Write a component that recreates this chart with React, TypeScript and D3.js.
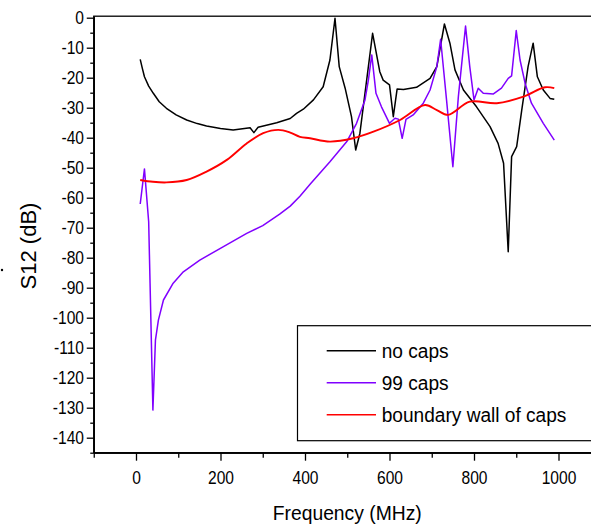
import React, { useEffect, useRef } from "react";
import * as d3 from "d3";

// S12 vs frequency
const noCapsFreq = [10, 15, 20, 30, 41, 55, 72, 95, 120, 145, 167, 200, 230, 270, 279, 289, 333, 365, 380, 396, 420, 443, 459, 471, 481, 495, 510, 520, 530, 560, 577, 585, 600, 609, 618, 633, 664, 696, 712, 730, 743, 755, 775, 806, 838, 857, 870, 881, 889, 901, 913, 928, 940, 950, 964, 980, 990];
const noCapsDb = [-13.9, -16.9, -19.7, -22.8, -25.2, -28, -30.2, -32.4, -34.1, -35.3, -36.1, -36.9, -37.4, -36.7, -38.3, -36.5, -35, -33.6, -31.9, -30.5, -27.4, -23, -14.1, -0.2, -16.3, -23.5, -33, -44.1, -38.5, -5.2, -18, -20.8, -22.4, -33, -23.8, -23.9, -23.2, -20.2, -16.3, -2.1, -8.5, -17.4, -24.1, -29.7, -36.3, -41.9, -48.5, -78, -46.3, -43, -30.8, -16.3, -8.5, -19.7, -24.1, -26.9, -27.2];

const capsFreq = [10, 20, 30, 40, 46, 53, 65, 88, 112, 151, 207, 262, 300, 340, 365, 388, 412, 459, 499, 522, 542, 550, 558, 568, 581, 600, 613, 621, 630, 639, 656, 680, 696, 712, 721, 735, 750, 763, 780, 790, 800, 810, 822, 846, 865, 881, 889, 900, 909, 921, 936, 964, 990];
const capsDb = [-62.1, -50.4, -68, -130.8, -107.5, -100.8, -94.1, -88.5, -84.7, -80.8, -76.3, -71.9, -69.3, -65.5, -62.8, -59.5, -55.5, -48, -41.3, -35.2, -27.4, -20.8, -12.4, -25.2, -29.7, -35.2, -33.5, -33.8, -40.2, -33.9, -32.4, -28.5, -24.1, -16.3, -7.2, -27.4, -49.7, -26.3, -2.8, -16.3, -27.4, -23.5, -25.2, -25.4, -23.5, -20.2, -19.4, -4.3, -14.1, -21.9, -28.5, -35.2, -40.8];

const wallFreq = [10, 40, 72, 120, 167, 215, 262, 301, 337, 365, 388, 412, 459, 514, 562, 625, 684, 712, 739, 790, 854, 917, 968, 990];
const wallDb = [-54.1, -54.7, -54.9, -54.1, -51.3, -47.4, -41.9, -38.5, -37.4, -38.3, -39.7, -40.2, -41.3, -40.2, -38, -34.1, -29.1, -30.8, -32.4, -28, -28.5, -26.3, -23.2, -23.5];

const seriesNames = ["no caps", "99 caps", "boundary wall of caps"];
const seriesColors = ["#000000", "#8000ff", "#ff0000"];

const xMajor = [0, 200, 400, 600, 800, 1000];
const xMinor = [-100, 100, 300, 500, 700, 900, 1100];
const yMajor = d3.range(-140, 1, 10);
const yMinor = d3.range(-145, 1, 5).filter((v) => v % 10 !== 0);

const font = "'Liberation Sans', Arial, sans-serif";

const App = () => {
  const svgRef = useRef<SVGSVGElement>(null);

  useEffect(() => {
    const svg = d3.select(svgRef.current);
    svg.selectAll("*").remove();

    const x = d3.scaleLinear().domain([-100, 1100]).range([93.75, 600.75]);
    const y = d3.scaleLinear().domain([-145, 0.5]).range([452.7, 16.2]);

    // frame
    svg.append("rect")
      .attr("x", x(-100)).attr("y", y(0.5))
      .attr("width", x(1100) - x(-100)).attr("height", y(-145) - y(0.5))
      .attr("fill", "none").attr("stroke", "#000").attr("stroke-width", 1.3);

    // minor + major ticks
    const gx = svg.append("g").attr("transform", `translate(0,${y(-145)})`);
    gx.call(d3.axisBottom(x).tickValues(xMinor).tickSize(5).tickSizeOuter(0).tickFormat(() => ""));
    gx.append("g").call(
      d3.axisBottom(x).tickValues(xMajor).tickSize(8).tickSizeOuter(0).tickPadding(11)
        .tickFormat((d) => String(d))
    );
    const gy = svg.append("g").attr("transform", `translate(${x(-100)},0)`);
    gy.call(d3.axisLeft(y).tickValues(yMinor).tickSize(3.5).tickSizeOuter(0).tickFormat(() => ""));
    gy.append("g").call(
      d3.axisLeft(y).tickValues(yMajor).tickSize(7).tickSizeOuter(0).tickPadding(4)
        .tickFormat((d) => String(d))
    );
    svg.selectAll(".domain").attr("stroke-width", 1.3);
    svg.selectAll(".tick line").attr("stroke-width", 1.3);
    svg.selectAll(".tick text")
      .attr("font-family", font)
      .attr("font-size", 17.5)
      .attr("fill", "#000")
      .attr("transform", "scale(0.89,1)");

    // titles
    svg.append("text")
      .attr("transform", `translate(${x(500)},520) scale(0.92,1)`)
      .attr("text-anchor", "middle")
      .attr("font-family", font).attr("font-size", 21)
      .text("Frequency (MHz)");
    svg.append("text")
      .attr("transform", "translate(35.5,246) rotate(-90)")
      .attr("text-anchor", "middle")
      .attr("font-family", font).attr("font-size", 22)
      .text("S12 (dB)");
    svg.append("circle").attr("cx", 2).attr("cy", 270).attr("r", 1.2).attr("fill", "#000");

    const line = d3.line<[number, number]>().x((d) => x(d[0])).y((d) => y(d[1]));
    const smooth = d3.line<[number, number]>().x((d) => x(d[0])).y((d) => y(d[1])).curve(d3.curveCatmullRom);

    const data: [number, number][][] = [
      noCapsFreq.map((f, i) => [f, noCapsDb[i]]),
      capsFreq.map((f, i) => [f, capsDb[i]]),
      wallFreq.map((f, i) => [f, wallDb[i]]),
    ];

    data.forEach((pts, i) => {
      svg.append("path")
        .attr("d", (i === 2 ? smooth : line)(pts))
        .attr("fill", "none")
        .attr("stroke", seriesColors[i])
        .attr("stroke-width", i === 2 ? 1.9 : 1.5)
        .attr("stroke-linejoin", "round");
    });

    // legend
    const lg = svg.append("g");
    lg.append("rect")
      .attr("x", 297.5).attr("y", 325.7).attr("width", 300).attr("height", 115)
      .attr("fill", "#fff").attr("stroke", "#000").attr("stroke-width", 1.2);
    seriesNames.forEach((name, i) => {
      const ry = 350.7 + i * 32;
      lg.append("line")
        .attr("x1", 326.7).attr("x2", 376).attr("y1", ry).attr("y2", ry)
        .attr("stroke", seriesColors[i]).attr("stroke-width", 1.5);
      lg.append("text")
        .attr("transform", `translate(381.7,${ry + 7}) scale(0.91,1)`)
        .attr("font-family", font).attr("font-size", 21)
        .text(name);
    });
  }, []);

  return (
    <svg
      ref={svgRef}
      width={591}
      height={526}
      style={{ position: "absolute", left: 0, top: 0, background: "#fff" }}
    />
  );
};

export default App;
